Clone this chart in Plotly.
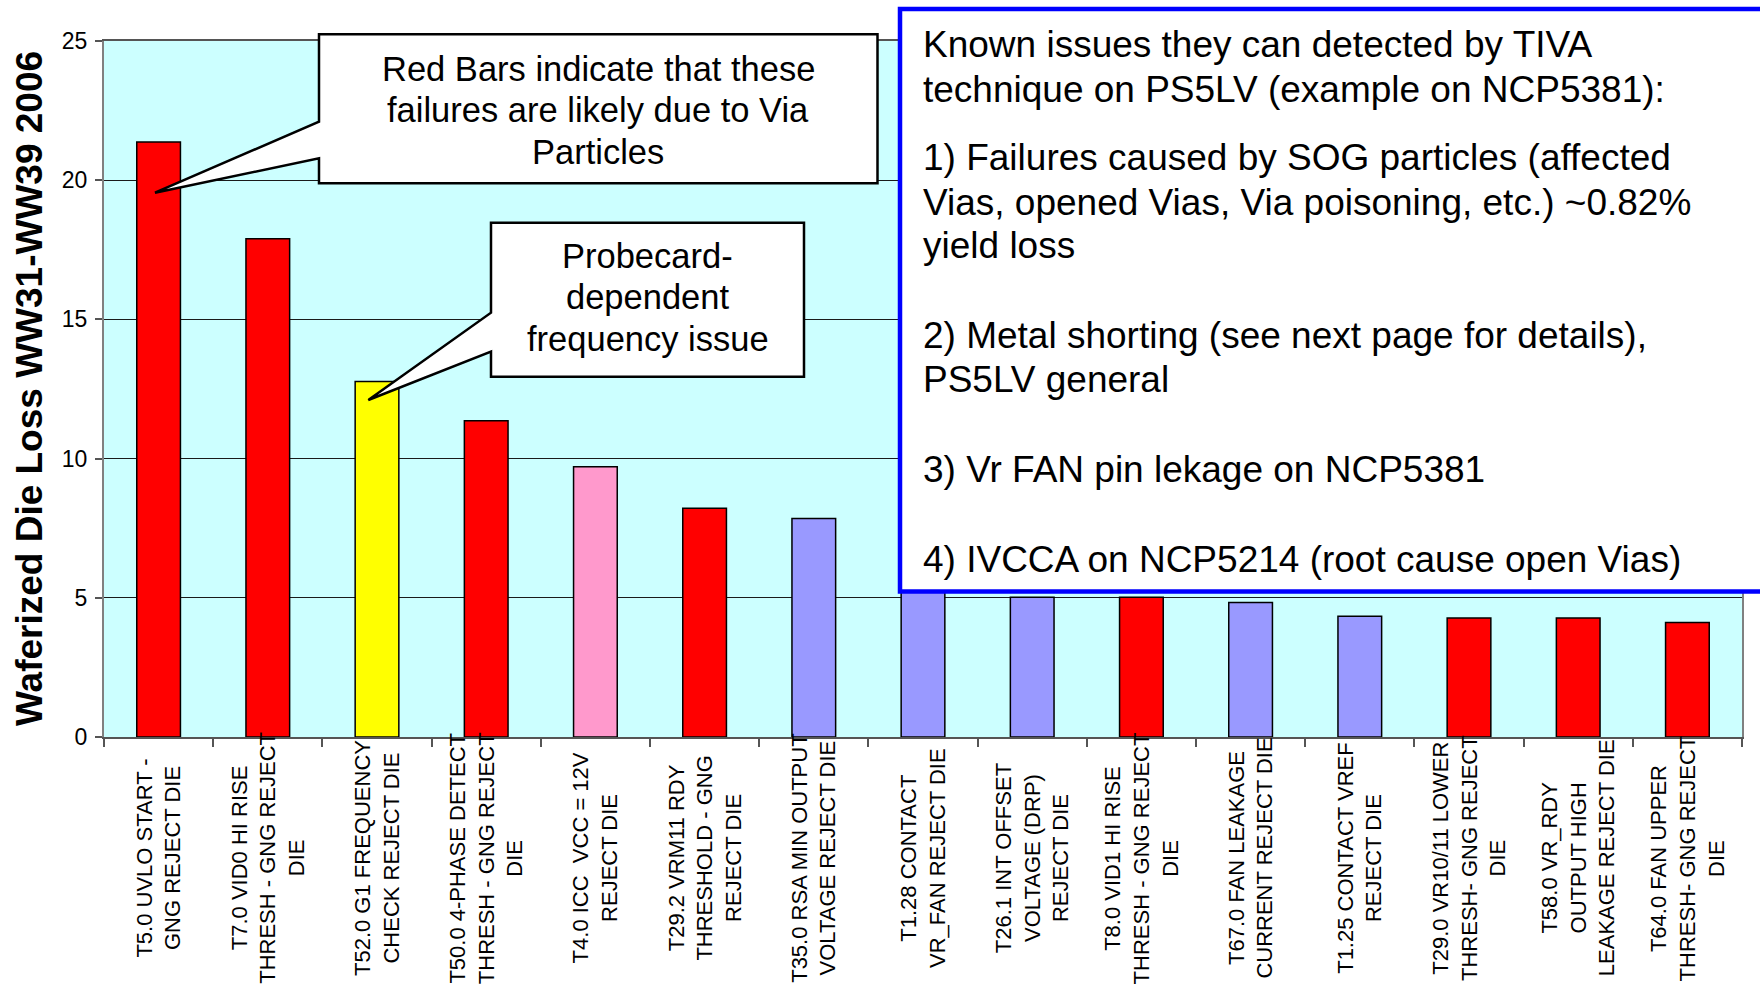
import plotly.graph_objects as go

# ---------------- data ----------------
categories = [
    "T5.0 UVLO START - GNG REJECT DIE",
    "T7.0 VID0 HI RISE THRESH - GNG REJECT DIE",
    "T52.0 G1 FREQUENCY CHECK REJECT DIE",
    "T50.0 4-PHASE DETECT THRESH - GNG REJECT DIE",
    "T4.0 ICC  VCC = 12V REJECT DIE",
    "T29.2 VRM11 RDY THRESHOLD - GNG REJECT DIE",
    "T35.0 RSA MIN OUTPUT VOLTAGE REJECT DIE",
    "T1.28 CONTACT VR_FAN REJECT DIE",
    "T26.1 INT OFFSET VOLTAGE (DRP) REJECT DIE",
    "T8.0 VID1 HI RISE THRESH - GNG REJECT DIE",
    "T67.0 FAN LEAKAGE CURRENT REJECT DIE",
    "T1.25 CONTACT VREF REJECT DIE",
    "T29.0 VR10/11 LOWER THRESH- GNG REJECT DIE",
    "T58.0 VR_RDY OUTPUT HIGH LEAKAGE REJECT DIE",
    "T64.0 FAN UPPER THRESH- GNG REJECT DIE",
]
tick_labels = [
    "T5.0 UVLO START -<br>GNG REJECT DIE",
    "T7.0 VID0 HI RISE<br>THRESH - GNG REJECT<br>DIE",
    "T52.0 G1 FREQUENCY<br>CHECK REJECT DIE",
    "T50.0 4-PHASE DETECT<br>THRESH - GNG REJECT<br>DIE",
    "T4.0 ICC  VCC = 12V<br>REJECT DIE",
    "T29.2 VRM11 RDY<br>THRESHOLD - GNG<br>REJECT DIE",
    "T35.0 RSA MIN OUTPUT<br>VOLTAGE REJECT DIE",
    "T1.28 CONTACT<br>VR_FAN REJECT DIE",
    "T26.1 INT OFFSET<br>VOLTAGE (DRP)<br>REJECT DIE",
    "T8.0 VID1 HI RISE<br>THRESH - GNG REJECT<br>DIE",
    "T67.0 FAN LEAKAGE<br>CURRENT REJECT DIE",
    "T1.25 CONTACT VREF<br>REJECT DIE",
    "T29.0 VR10/11 LOWER<br>THRESH- GNG REJECT<br>DIE",
    "T58.0 VR_RDY<br>OUTPUT HIGH<br>LEAKAGE REJECT DIE",
    "T64.0 FAN UPPER<br>THRESH- GNG REJECT<br>DIE",
]
die_loss = [21.37, 17.9, 12.77, 11.36, 9.71, 8.22, 7.85, 5.6,
            5.02, 5.02, 4.83, 4.34, 4.27, 4.27, 4.11]
bar_colors = ["#FF0000", "#FF0000", "#FFFF00", "#FF0000", "#FF99CC",
              "#FF0000", "#9999FF", "#9999FF", "#9999FF", "#FF0000",
              "#9999FF", "#9999FF", "#FF0000", "#FF0000", "#FF0000"]
y_ticks = [0, 5, 10, 15, 20, 25]
y_title = "Waferized Die Loss WW31-WW39 2006"
callout_red_lines = ["Red Bars indicate that these",
                     "failures are likely due to Via",
                     "Particles"]
callout_probe_lines = ["Probecard-", "dependent", "frequency issue"]
box_lines = [
    "Known issues they can detected by TIVA",
    "technique on PS5LV (example on NCP5381):",
    "1) Failures caused by SOG particles (affected",
    "Vias, opened Vias, Via poisoning, etc.) ~0.82%",
    "yield loss",
    "2) Metal shorting (see next page for details),",
    "PS5LV general",
    "3) Vr FAN pin lekage on NCP5381",
    "4) IVCCA on NCP5214 (root cause open Vias)",
]

# ---------------- layout geometry (pixels) ----------------
W, H = 1760, 991
ML, MR, MT, MB = 104, 18, 41, 254
PW, PH = W - ML - MR, H - MT - MB
FONT = "Liberation Sans, Arial, sans-serif"


def px(x):
    return (x - ML) / PW


def py(y):
    return (H - MB - y) / PH


def path(points):
    return "M " + " L ".join(f"{px(x):.5f},{py(y):.5f}" for x, y in points) + " Z"


fig = go.Figure()
fig.add_trace(go.Bar(
    x=categories, y=die_loss,
    marker=dict(color=bar_colors, line=dict(color="#000000", width=1.5)),
    width=0.4,
    hoverinfo="x+y",
))

fig.update_layout(
    width=W, height=H,
    margin=dict(l=ML, r=MR, t=MT, b=MB, autoexpand=False),
    paper_bgcolor="#FFFFFF",
    plot_bgcolor="#CCFFFF",
    showlegend=False,
    font=dict(family=FONT, color="#000000"),
)
fig.update_xaxes(
    type="category",
    showticklabels=False,
    ticks="outside", tickson="boundaries", ticklen=8, tickwidth=1.5, tickcolor="#555555",
    showline=True, linecolor="#555555", linewidth=2, mirror=True,
    showgrid=False, range=[-0.5, len(categories) - 0.5],
)
fig.update_yaxes(
    range=[0, 25], tickvals=y_ticks, ticktext=[str(v) for v in y_ticks],
    ticks="outside", ticklen=7, tickcolor="#555555", tickwidth=1.5,
    ticklabelstandoff=3,
    tickfont=dict(size=23, family=FONT, color="#000000"),
    showline=True, linecolor="#808080", linewidth=2, mirror=True,
    showgrid=True, gridcolor="#1a1a1a", gridwidth=1,
    zeroline=False,
)

# category labels, centred below each bar (Excel style)
for cat, lab in zip(categories, tick_labels):
    fig.add_annotation(
        x=cat, y=0, xref="x", yref="y", text=lab, showarrow=False,
        textangle=-90, align="center", xanchor="center", yanchor="middle",
        yshift=-121, font=dict(size=22, family=FONT, color="#000000"),
    )

# y-axis title
fig.add_annotation(
    x=0, y=0.5, xref="paper", yref="paper", text=y_title, showarrow=False,
    textangle=-90, xanchor="center", yanchor="middle", xshift=29 - ML,
    font=dict(size=37, family=FONT, color="#000000", weight="bold"),
)

# callout 1
fig.add_shape(
    type="path", xref="paper", yref="paper", layer="above",
    path=path([(319, 34.3), (877.5, 34.3), (877.5, 183.3), (319, 183.3),
               (319, 158.3), (155, 192.7), (319, 121.7)]),
    fillcolor="#FFFFFF", line=dict(color="#000000", width=2.5),
)
for txt, cy in zip(callout_red_lines, [68.5, 110, 151.5]):
    fig.add_annotation(
        x=px(598), y=py(cy), xref="paper", yref="paper", text=txt,
        showarrow=False, align="center", xanchor="center", yanchor="middle",
        font=dict(size=34.5, family=FONT, color="#000000"),
    )

# callout 2
fig.add_shape(
    type="path", xref="paper", yref="paper", layer="above",
    path=path([(491, 222.7), (804, 222.7), (804, 376.7), (491, 376.7),
               (491, 351.7), (368.3, 400), (491, 312.7)]),
    fillcolor="#FFFFFF", line=dict(color="#000000", width=2.5),
)
for txt, cy in zip(callout_probe_lines, [256, 297.4, 339]):
    fig.add_annotation(
        x=px(647.5), y=py(cy), xref="paper", yref="paper", text=txt,
        showarrow=False, align="center", xanchor="center", yanchor="middle",
        font=dict(size=34.5, family=FONT, color="#000000"),
    )

# blue text box
fig.add_shape(
    type="rect", xref="paper", yref="paper", layer="above",
    x0=px(900), x1=px(1800), y0=py(9), y1=py(591.5),
    fillcolor="#FFFFFF", line=dict(color="#0000FF", width=4.5),
)
box_centres = [44.9, 89.8, 157.1, 202, 245.8, 335.6, 379.4, 469.2, 559]
for txt, cy in zip(box_lines, box_centres):
    fig.add_annotation(
        x=px(921), y=py(cy), xref="paper", yref="paper", text=txt,
        showarrow=False, align="left", xanchor="left", yanchor="middle",
        font=dict(size=37, family=FONT, color="#000000"),
    )

fig.write_html("out.html")
